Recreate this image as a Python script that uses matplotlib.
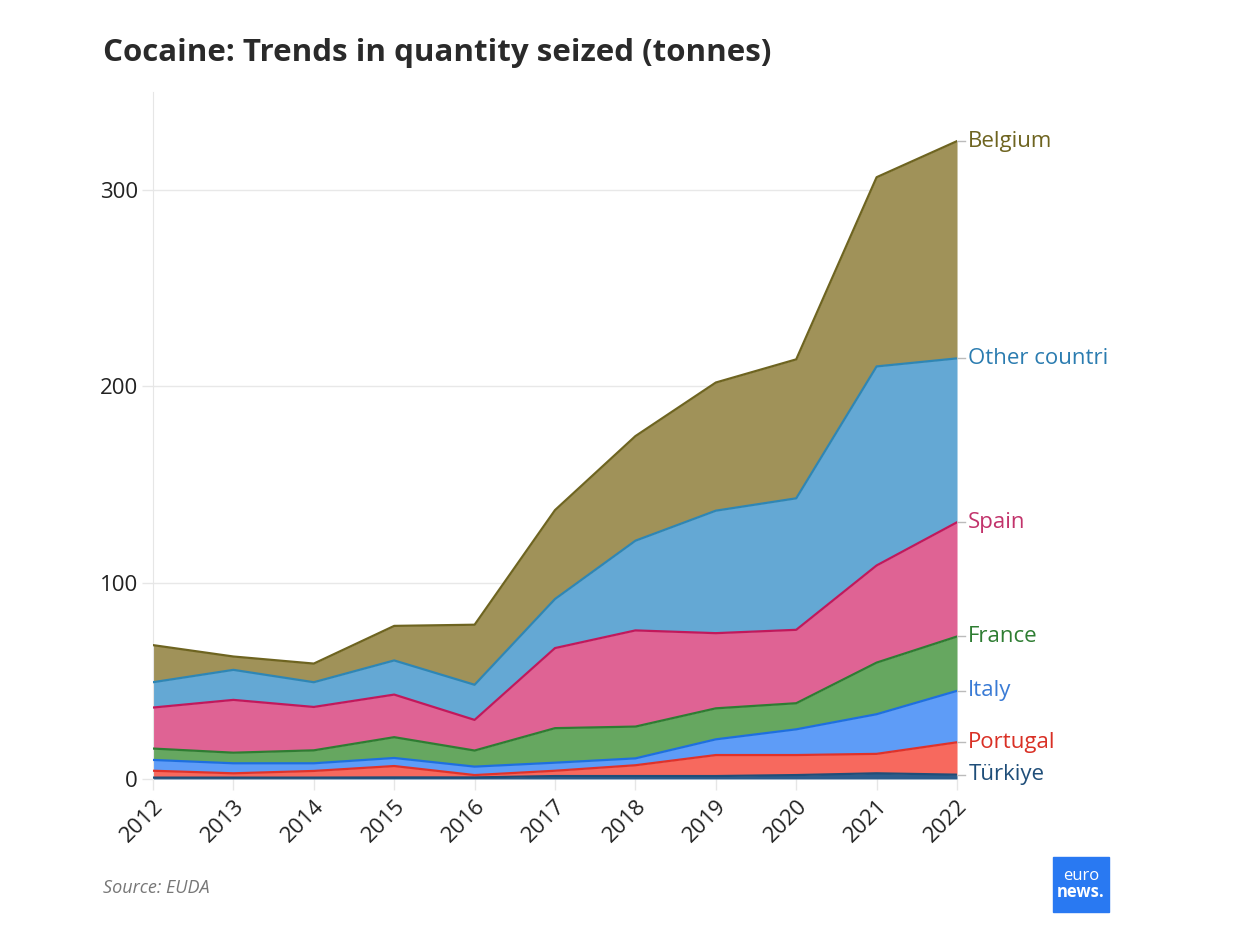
import numpy as np
import matplotlib.pyplot as plt
from matplotlib.patches import Rectangle

plt.rcParams['font.family'] = ['Open Sans', 'DejaVu Sans']

## data (tonnes)
years = [2012, 2013, 2014, 2015, 2016, 2017, 2018, 2019, 2020, 2021, 2022]
turkiye = [0.7, 0.7, 0.7, 0.8, 0.8, 1.5, 1.5, 1.5, 2.0, 2.9, 2.2]
portugal = [3.5, 2.2, 3.4, 5.8, 1.2, 2.7, 5.5, 10.7, 10.2, 9.9, 16.5]
italy = [5.5, 5.1, 3.9, 4.1, 4.3, 4.1, 3.5, 8.0, 13.1, 20.2, 26.2]
france = [5.8, 5.4, 6.6, 10.6, 8.2, 17.6, 16.2, 15.8, 13.3, 26.3, 27.7]
spain = [20.9, 26.9, 22.1, 21.7, 15.6, 40.8, 49.0, 38.3, 37.4, 49.5, 58.2]
other = [12.9, 15.3, 12.6, 17.4, 17.9, 25.0, 45.7, 62.4, 67.0, 101.4, 83.5]
belgium = [18.9, 6.8, 9.5, 17.6, 30.6, 45.3, 53.3, 65.3, 70.8, 96.4, 110.7]

names = ['Türkiye', 'Portugal', 'Italy', 'France', 'Spain', 'Other countri', 'Belgium']
series = [turkiye, portugal, italy, france, spain, other, belgium]
fills = ['#2d5d8c', '#f7695e', '#5e9cf7', '#66a760', '#df6394', '#64a8d4', '#a09259']
lines = ['#1f4e79', '#e0322a', '#1e6fe0', '#2e7d32', '#c2185b', '#2e86b5', '#6e6420']
labcols = ['#1f4e79', '#d93025', '#3a7bd5', '#2e7d32', '#c2336b', '#2b7cb0', '#6e6420']

fig = plt.figure(figsize=(12.52, 9.44), dpi=100)
ax = fig.add_axes([0.1222, 0.1748, 0.6422, 0.7277])

x = np.array(years)
base = np.zeros(len(years))
for vals, fc, lc in zip(series, fills, lines):
    top = base + np.array(vals)
    ax.fill_between(x, base, top, color=fc, lw=0, zorder=2)
    ax.plot(x, top, color=lc, lw=1.6, zorder=3)
    base = top

ax.set_xlim(2012, 2022)
ax.set_ylim(0, 350)
ax.set_xticks(years)
ax.set_xticklabels([str(y) for y in years], rotation=45, ha='right',
                   rotation_mode='anchor', fontsize=16, color='#222222')
ax.set_yticks([0, 100, 200, 300])
ax.set_yticklabels(['0', '100', '200', '300'], fontsize=16, color='#222222')
ax.tick_params(axis='both', length=8, color='#e6e6e6', width=1)
ax.tick_params(axis='x', pad=4)
ax.tick_params(axis='y', pad=3)
ax.grid(axis='y', color='#e8e8e8', lw=1, zorder=0)
for s in ['top', 'right', 'bottom']:
    ax.spines[s].set_visible(False)
ax.spines['left'].set_color('#e6e6e6')

# end labels
base = np.zeros(len(years))
for vals, name, c in zip(series, names, labcols):
    base = base + np.array(vals)
    yv = base[-1]
    ax.plot([2022, 2022.1], [yv, yv], color='#bbbbbb', lw=1, clip_on=False)
    ax.text(2022.14, yv, name, color=c, fontsize=16, va='center', ha='left',
            clip_on=False)

fig.text(0.0823, 0.944, 'Cocaine: Trends in quantity seized (tonnes)',
         fontsize=22.5, fontweight='bold', color='#2a2a2a', va='center')
fig.text(0.0823, 0.059, 'Source: EUDA', fontsize=13, style='italic',
         color='#777777', va='center')

# logo
fig.patches.append(Rectangle((1053 / 1252, 1 - 912 / 944), 56 / 1252, 55 / 944,
                             transform=fig.transFigure, color='#2979f2'))
fig.text(1081 / 1252, 1 - 876 / 944, 'euro', color='white', fontsize=12,
         ha='center', va='center')
fig.text(1081 / 1252, 1 - 892 / 944, 'news.', color='white', fontsize=12,
         fontweight='bold', ha='center', va='center')

fig.savefig('out.png', dpi=100)
